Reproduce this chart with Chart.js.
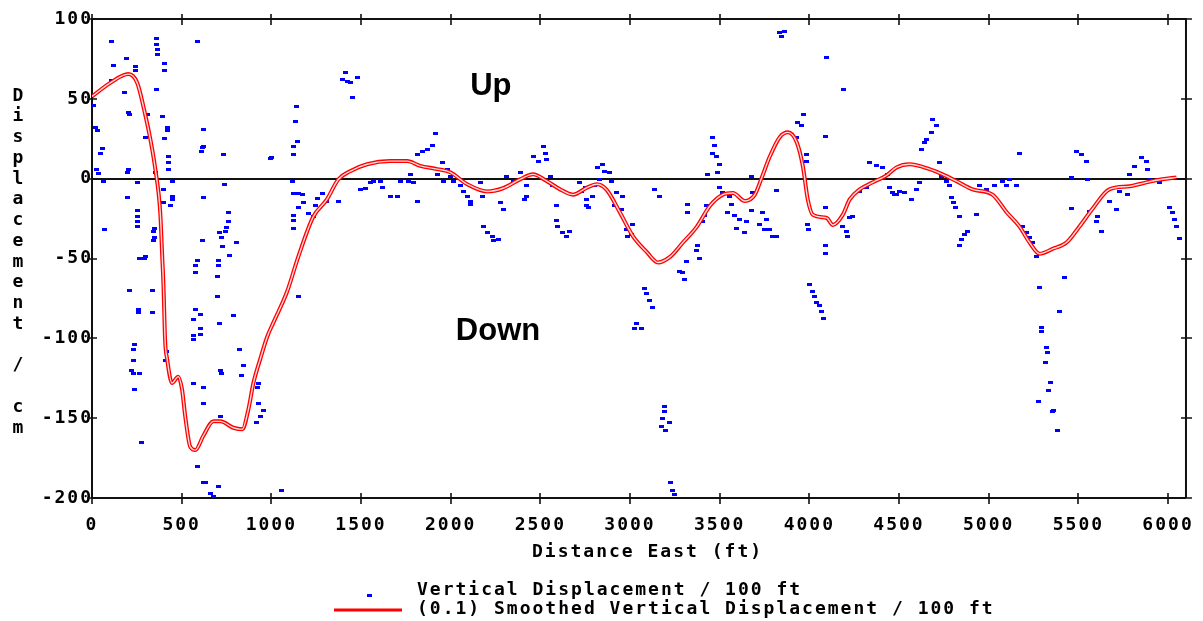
<!DOCTYPE html>
<html>
<head>
<meta charset="utf-8">
<script src="https://cdn.jsdelivr.net/npm/chart.js@4.4.1/dist/chart.umd.min.js"></script>
<style>
  html, body { margin: 0; padding: 0; background: #fff; }
  #wrap { width: 1203px; height: 621px; position: relative; }
</style>
</head>
<body>
<div id="wrap"><canvas id="c" width="1203" height="621"></canvas></div>
<script>
// Axis ticks
const xTickValues = [0, 500, 1000, 1500, 2000, 2500, 3000, 3500, 4000, 4500, 5000, 5500, 6000];
const yTickValues = [-200, -150, -100, -50, 0, 50, 100];

// Vertical displacement readings (distance east in ft, displacement in cm)
const dispX = [
  108,118,191,108,180,241,241,362,358,364,364,403,403,358,586,7,18,29,57,46,24,35,63,203,208,203,197,253,197,308,
  392,297,419,419,403,426,426,426,353,447,398,447,447,398,436,253,253,253,253,69,347,342,347,342,291,621,614,608,621,732,
  621,738,761,761,749,743,710,721,614,804,726,766,994,1000,1139,1133,1122,1122,1116,1122,1150,1122,1122,1122,1150,
  297,264,208,336,258,258,336,236,230,230,219,230,264,236,275,408,414,586,575,575,705,705,699,699,575,604,566,787,710,
  604,604,564,564,822,715,721,844,833,564,621,621,715,928,922,928,956,939,917,586,621,632,660,677,705,1055,1150,
  1411,1395,1422,1439,1478,1455,1144,1172,1178,1206,1233,1256,1283,1310,1373,1245,1495,1523,1551,1568,1607,1618,1663,1701,
  1718,1763,1774,1791,1813,1813,1841,1869,1897,1913,1952,1925,1980,1998,1958,2014,2053,2070,2092,2108,2108,2164,2175,2275,
  2292,2181,2203,2231,2264,2237,2314,2348,2387,2425,2425,2414,2459,2487,2515,2526,2537,2554,2570,2592,2592,2598,2626,2665,
  2648,2682,2721,2732,2760,2766,2804,
  2821,2849,2860,2832,2888,2899,2749,2760,2793,2927,2960,2955,2916,2983,2988,3016,3010,3138,3166,3322,3322,3378,3373,3390,
  3317,3295,3278,3306,3083,3094,3111,3128,3429,3417,3406,3462,3473,3462,3484,3501,3490,3434,3501,3518,3557,3568,3546,3585,
  3612,3596,3651,3640,3679,3679,3685,3724,3741,3763,3780,3797,3818,3752,3818,3936,3958,3969,3930,3986,3986,4092,4092,3991,
  3997,4092,4092,4186,4208,4214,4242,4225,4336,4375,4408,4436,4319,4281,4447,4464,4486,
  3038,3027,3066,3194,3194,3183,3222,3178,3200,3228,3239,3250,4003,4020,4031,4042,4058,4069,4080,
  3835,3863,3846,4097,4192,
  4688,4710,4682,4654,4643,4626,4727,4475,4503,4531,4570,4598,4615,4738,4765,4782,4793,4805,4816,4838,4933,4883,4866,4849,
  4838,4950,4988,5033,5078,5116,5155,5172,5100,5189,5211,5228,5245,5267,5462,5462,5489,5517,5545,5550,5606,5601,5629,5562,
  5673,5712,5729,5774,5785,5813,5852,5880,5885,5897,5953,5941,6008,6025,6036,6047,6064,5423,5284,5395,5295,
  5295,5323,5328,5317,5345,5334,5278,5356,5362,5384
];
const dispY = [
  86,71,75,61.5,54,70,68,88,84,81,78,72,68,56,86,46,32,30,19,16,6,3,-1.5,41.5,40,6,4,-2.5,-12,40,
  39,26,32,30,25,14,10,6,4,-1.5,-7,-11,-13,-15,-17,-20,-24,-27,-30,-32,-31,-33,-37,-39,-50,31,19.5,17,20,15,
  -12,-3.5,-21,-27,-30.5,-33,-34,-37,-38.5,-40,-42.5,-48,12.5,13,45,36,20,15,-1.5,-9,-9,-23,-26,-31,-18,
  -49,-50,-70,-70,-82,-84,-84,-104,-107,-114,-120,-122,-122,-132,-165,-114,-108,-51,-54.5,-59,-51,-54.5,-61,-74,-82,-85,-88,-86,-91,
  -94,-97.5,-98,-101,-107,-120,-122,-117,-123,-128,-131,-141,-149,-128,-131,-141,-145,-149,-153,-180,-190,-190,-197,-199,-193,-195,-74,
  66.5,62,61,60,63.5,51,23,-10,-15,-22,-23.5,-12.5,-9,-14,-14,-17,-7,-6,-2.5,-1.5,-1.5,-5.5,-11,-11,
  -1.5,-1.5,2.7,-2.5,-14,15,17,18,21,28,10,2.7,6,1.5,-1.5,-1.5,-4.5,-8,-11,-14,-16,-2.5,-11,-15,
  -19,-30,-34,-36,-38,-39,1.5,-1.5,4,-4.5,-11,-13,14,11,20,16,12,1.5,-4.5,-17,-26,-30,-34,-33,
  -36,-10,-2.5,-8,-13,-18,-4.5,
  7,9,4.6,-0.4,4,-1.5,-5.6,-17,-11,-8.7,-11,-19,-17,-32,-36,-29,-35,-7,-11,-16,-21,-42,-45,-50,
  -52,-59,-58,-63,-69,-72,-76,-81,-17,-23,-27,26,21,16,14,9,4,2.7,-5.6,-8.7,-11,-16,-21,-23,
  -25.5,-31,-27,-34,-20,1.5,-8.7,-29,-21,-25.5,-32,-36,-36,-32,-7.7,35,33,40,26,15,11,26.4,-18,-29,
  -32,-42,-47,-30,-33,-36,-23.5,-24.5,10,8,7,2.7,-5.6,-8,-5.6,-8.7,-10,
  -91,-94,-94,-143,-146,-150,-153,-155,-158,-190,-195,-198,-66,-70.5,-74,-77.5,-79.5,-83,-87.5,
  91.5,92,89,76,56,
  37,33,29,24.5,22.7,18,10,-10,-8,-8.7,-13,-6.7,-2.5,1.5,-1.5,-4.5,-12,-15,-18,-23.5,-22.5,-33,-35,-38,
  -42,-4.5,-6.7,-4.5,-1.5,-0.4,-4.5,16,-4.5,-30,-34,-37,-40,-48.5,0.8,-18.5,17,15,11,-0.4,-23.5,-27,-33,-20.5,
  -14,-19,-8,-10,2.7,7.7,13,11,6,-0.4,-2.5,-0.4,-18,-21,-25.5,-30,-37.5,-62,-68,-83,-93,
  -95.5,-106,-109,-115,-127.5,-132.5,-139.5,-146,-145,-158
];

// (0.1) smoothed vertical displacement
const smoothX = [0,102,203,252,297,325,353,381,392,398,408,419,446,481,502,520,548,576,621,677,716,788,838,873,900,938,977,1012,1087,1150,
  1233,1310,1373,1439,1534,1663,1757,1830,1925,1998,2092,2203,2292,2387,2459,2537,2610,2682,2760,2815,2870,2943,3016,3094,3156,3223,3295,3373,3446,3518,
  3574,3640,3696,3735,3780,3835,3880,3930,3964,3991,4020,4097,4131,4186,4225,4281,4354,4430,4486,4558,4670,4743,4821,4910,5021,5100,5172,5228,5284,5356,
  5434,5506,5578,5673,5785,5880,5969,6047];
const smoothY = [51.5,60,65.5,60,40,25,6,-22,-50,-65,-102,-113,-128,-124,-132,-149,-168,-170,-161,-152,-152,-156,-157,-144,-128,-113,-99,-90,-71,-49,
  -24,-13,-0.5,4.6,9,11,11,8,6,4,-3.5,-8,-6,-0.4,2.7,-1.6,-6.7,-10,-5.6,-3.5,-7,-21,-36,-46,-52.5,-49,-40,-30,-17,-10,
  -9,-14,-10,0.8,14,26,29,22.7,7.7,-13,-22.7,-24.6,-29,-22.7,-13,-6.7,-2.3,2,7,9,6,2.7,-1.6,-6.7,-10,-21,-30,-40,-47,-44,
  -40,-30,-19,-6.7,-4.8,-2.3,-0.4,0.8];

// Text annotations placed in data units
const noteText = ['Up', 'Down'];
const noteX = [2224, 2264];
const noteY = [58, -95.5];

const seriesLabels = ['Vertical Displacement / 100 ft', '(0.1) Smoothed Vertical Displacement / 100 ft'];
const xTitle = 'Distance East (ft)';
const yTitle = 'Displacement / cm';

const MONO = '"DejaVu Sans Mono", "Liberation Mono", monospace';
const BLUE = '#0000ff';
const RED = '#ff0000';

// small rectangular marker used for each reading
const dot = document.createElement('canvas');
dot.width = 5; dot.height = 3;
(function () { const g = dot.getContext('2d'); g.fillStyle = BLUE; g.fillRect(0, 0, 5, 3); })();

const points = dispX.map((x, i) => ({ x, y: dispY[i] }));
const smooth = smoothX.map((x, i) => ({ x, y: smoothY[i] }));

const decor = {
  id: 'decor',
  beforeUpdate(chart) { chart.ctx.letterSpacing = '2px'; },
  beforeDraw(chart) {
    const ctx = chart.ctx;
    ctx.save();
    ctx.fillStyle = '#fff';
    ctx.fillRect(0, 0, chart.width, chart.height);
    ctx.restore();
    ctx.letterSpacing = '2px';
  },
  afterDraw(chart) {
    const ctx = chart.ctx;
    const a = chart.chartArea;
    const xs = chart.scales.x, ys = chart.scales.y;
    ctx.save();
    // frame: top and right edges
    ctx.strokeStyle = '#111';
    ctx.lineWidth = 2;
    ctx.beginPath();
    ctx.moveTo(a.left, a.top); ctx.lineTo(a.right, a.top); ctx.lineTo(a.right, a.bottom);
    ctx.stroke();
    // tick marks crossing each edge
    ctx.lineWidth = 1.6;
    ctx.beginPath();
    xs.ticks.forEach(t => {
      const px = Math.round(xs.getPixelForValue(t.value));
      ctx.moveTo(px, a.bottom - 5); ctx.lineTo(px, a.bottom + 6);
      ctx.moveTo(px, a.top - 5); ctx.lineTo(px, a.top + 6);
    });
    ys.ticks.forEach(t => {
      const py = Math.round(ys.getPixelForValue(t.value));
      ctx.moveTo(a.left - 5, py); ctx.lineTo(a.left + 5, py);
      ctx.moveTo(a.right - 5, py); ctx.lineTo(a.right + 6, py);
    });
    ctx.stroke();

    // axis titles
    ctx.fillStyle = '#000';
    ctx.font = 'bold 18px ' + MONO;
    ctx.letterSpacing = '2px';
    ctx.textBaseline = 'middle';
    ctx.textAlign = 'left';
    ctx.fillText(xTitle, 532, 552);
    ctx.textAlign = 'center';
    const chars = yTitle.split('');
    chars.forEach((ch, i) => {
      if (ch !== ' ') ctx.fillText(ch, 19, 96 + i * 20.75);
    });

    // legend
    ctx.textAlign = 'left';
    ctx.drawImage(dot, 367, 594);
    ctx.fillText(seriesLabels[0], 417, 590);
    ctx.strokeStyle = RED;
    ctx.lineWidth = 3;
    ctx.beginPath();
    ctx.moveTo(334, 610); ctx.lineTo(402, 610);
    ctx.stroke();
    ctx.fillText(seriesLabels[1], 417, 609);

    // Up / Down annotations
    ctx.letterSpacing = '0px';
    ctx.font = 'bold 31px "Liberation Sans", Arial, sans-serif';
    ctx.textAlign = 'center';
    noteText.forEach((txt, i) => {
      ctx.fillText(txt, xs.getPixelForValue(noteX[i]), ys.getPixelForValue(noteY[i]));
    });
    ctx.restore();
    ctx.letterSpacing = '2px';
  }
};

new Chart(document.getElementById('c'), {
  type: 'scatter',
  data: {
    datasets: [
      {
        label: seriesLabels[0],
        data: points,
        pointStyle: dot,
        pointRadius: 2.5,
        showLine: false,
        order: 3
      },
      {
        label: seriesLabels[1],
        data: smooth,
        showLine: true,
        borderColor: RED,
        borderWidth: 4,
        pointRadius: 0,
        cubicInterpolationMode: 'monotone',
        order: 2
      },
      {
        label: '',
        data: smooth,
        showLine: true,
        borderColor: 'rgba(255,255,255,0.85)',
        borderWidth: 1.4,
        pointRadius: 0,
        cubicInterpolationMode: 'monotone',
        order: 1
      }
    ]
  },
  options: {
    responsive: false,
    animation: false,
    events: [],
    layout: { padding: { top: 19, right: 17, left: 0, bottom: 0 } },
    plugins: { legend: { display: false }, tooltip: { enabled: false } },
    scales: {
      x: {
        type: 'linear',
        min: 0, max: 6100,
        afterFit(s) { s.height = 123; },
        afterBuildTicks(s) { s.ticks = xTickValues.map(v => ({ value: v })); },
        grid: { display: false },
        border: { display: true, color: '#111', width: 2 },
        ticks: {
          color: '#000',
          padding: 9,
          maxRotation: 0,
          autoSkip: false,
          font: { family: MONO, size: 18, weight: 'bold' },
          callback: v => String(v)
        }
      },
      y: {
        type: 'linear',
        min: -200, max: 100,
        afterFit(s) { s.width = 92; },
        afterBuildTicks(s) { s.ticks = yTickValues.map(v => ({ value: v })); },
        grid: {
          display: true,
          drawTicks: false,
          color: c => (c.tick && c.tick.value === 0 ? '#111' : 'rgba(0,0,0,0)'),
          lineWidth: 2
        },
        border: { display: true, color: '#111', width: 2 },
        ticks: {
          color: '#000',
          padding: -1,
          autoSkip: false,
          font: { family: MONO, size: 18, weight: 'bold' },
          callback: v => String(v)
        }
      }
    }
  },
  plugins: [decor]
});
</script>
</body>
</html>
